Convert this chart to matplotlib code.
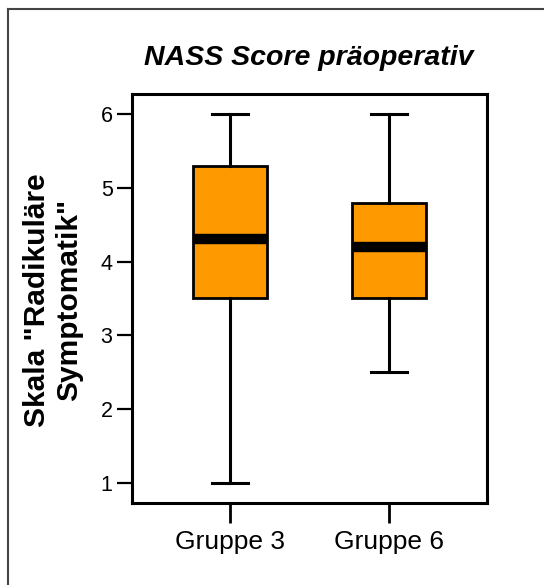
import matplotlib
matplotlib.use("Agg")
from matplotlib import pyplot as plt
from matplotlib.lines import Line2D

plt.rcParams['font.family'] = ['Liberation Sans', 'DejaVu Sans']

groups = ["Gruppe 3", "Gruppe 6"]
whisker_low = [1.0, 2.5]
q1 = [3.5, 3.5]
median = [4.31, 4.2]
q3 = [5.3, 4.8]
whisker_high = [6.0, 6.0]
y_ticks = [1, 2, 3, 4, 5, 6]

stats = []
for i in range(len(groups)):
    stats.append({"label": groups[i], "whislo": whisker_low[i], "q1": q1[i],
                  "med": median[i], "q3": q3[i], "whishi": whisker_high[i]})

fig = plt.figure(figsize=(5.44, 5.85), dpi=100)
ax = fig.add_axes([132/544, 1-503/585, (487-132)/544, (503-94)/585])

ax.bxp(stats, positions=[1, 2], widths=0.47, showfliers=False, patch_artist=True,
       boxprops=dict(facecolor="#FF9900", edgecolor="black", linewidth=2.0),
       medianprops=dict(color="black", linewidth=7.5, solid_capstyle="butt"),
       whiskerprops=dict(color="black", linewidth=2.2),
       capprops=dict(color="black", linewidth=2.2),
       capwidths=0.23)

ax.set_xlim(0.384, 2.616)
ax.set_ylim(0.73, 6.27)
ax.set_yticks(y_ticks)
ax.set_yticklabels([str(v) for v in y_ticks], fontsize=15.5)
ax.set_xticks([1, 2])
ax.set_xticklabels(groups, fontsize=19)
ax.tick_params(axis="y", length=11, width=1.6, pad=3)
ax.tick_params(axis="x", length=14.5, width=2.0, pad=5)
for s in ax.spines.values():
    s.set_linewidth(2.2)

fig.text(309/544, 1-65/585, "NASS Score präoperativ", ha="center", va="baseline",
         fontsize=20.5, fontweight="bold", fontstyle="italic")
fig.text(53/544, 1-300/585, 'Skala "Radikuläre\nSymptomatik"', rotation=90,
         ha="center", va="center", multialignment="center",
         fontsize=21.5, fontweight="bold", linespacing=1.15)

# outer frame (left and top only visible)
fig.add_artist(Line2D([8/544, 8/544], [0, 1-9/585], transform=fig.transFigure,
                      color="#444444", linewidth=1.5))
fig.add_artist(Line2D([8/544, 1], [1-9/585, 1-9/585], transform=fig.transFigure,
                      color="#444444", linewidth=1.5))

fig.savefig("out.png", dpi=100)
